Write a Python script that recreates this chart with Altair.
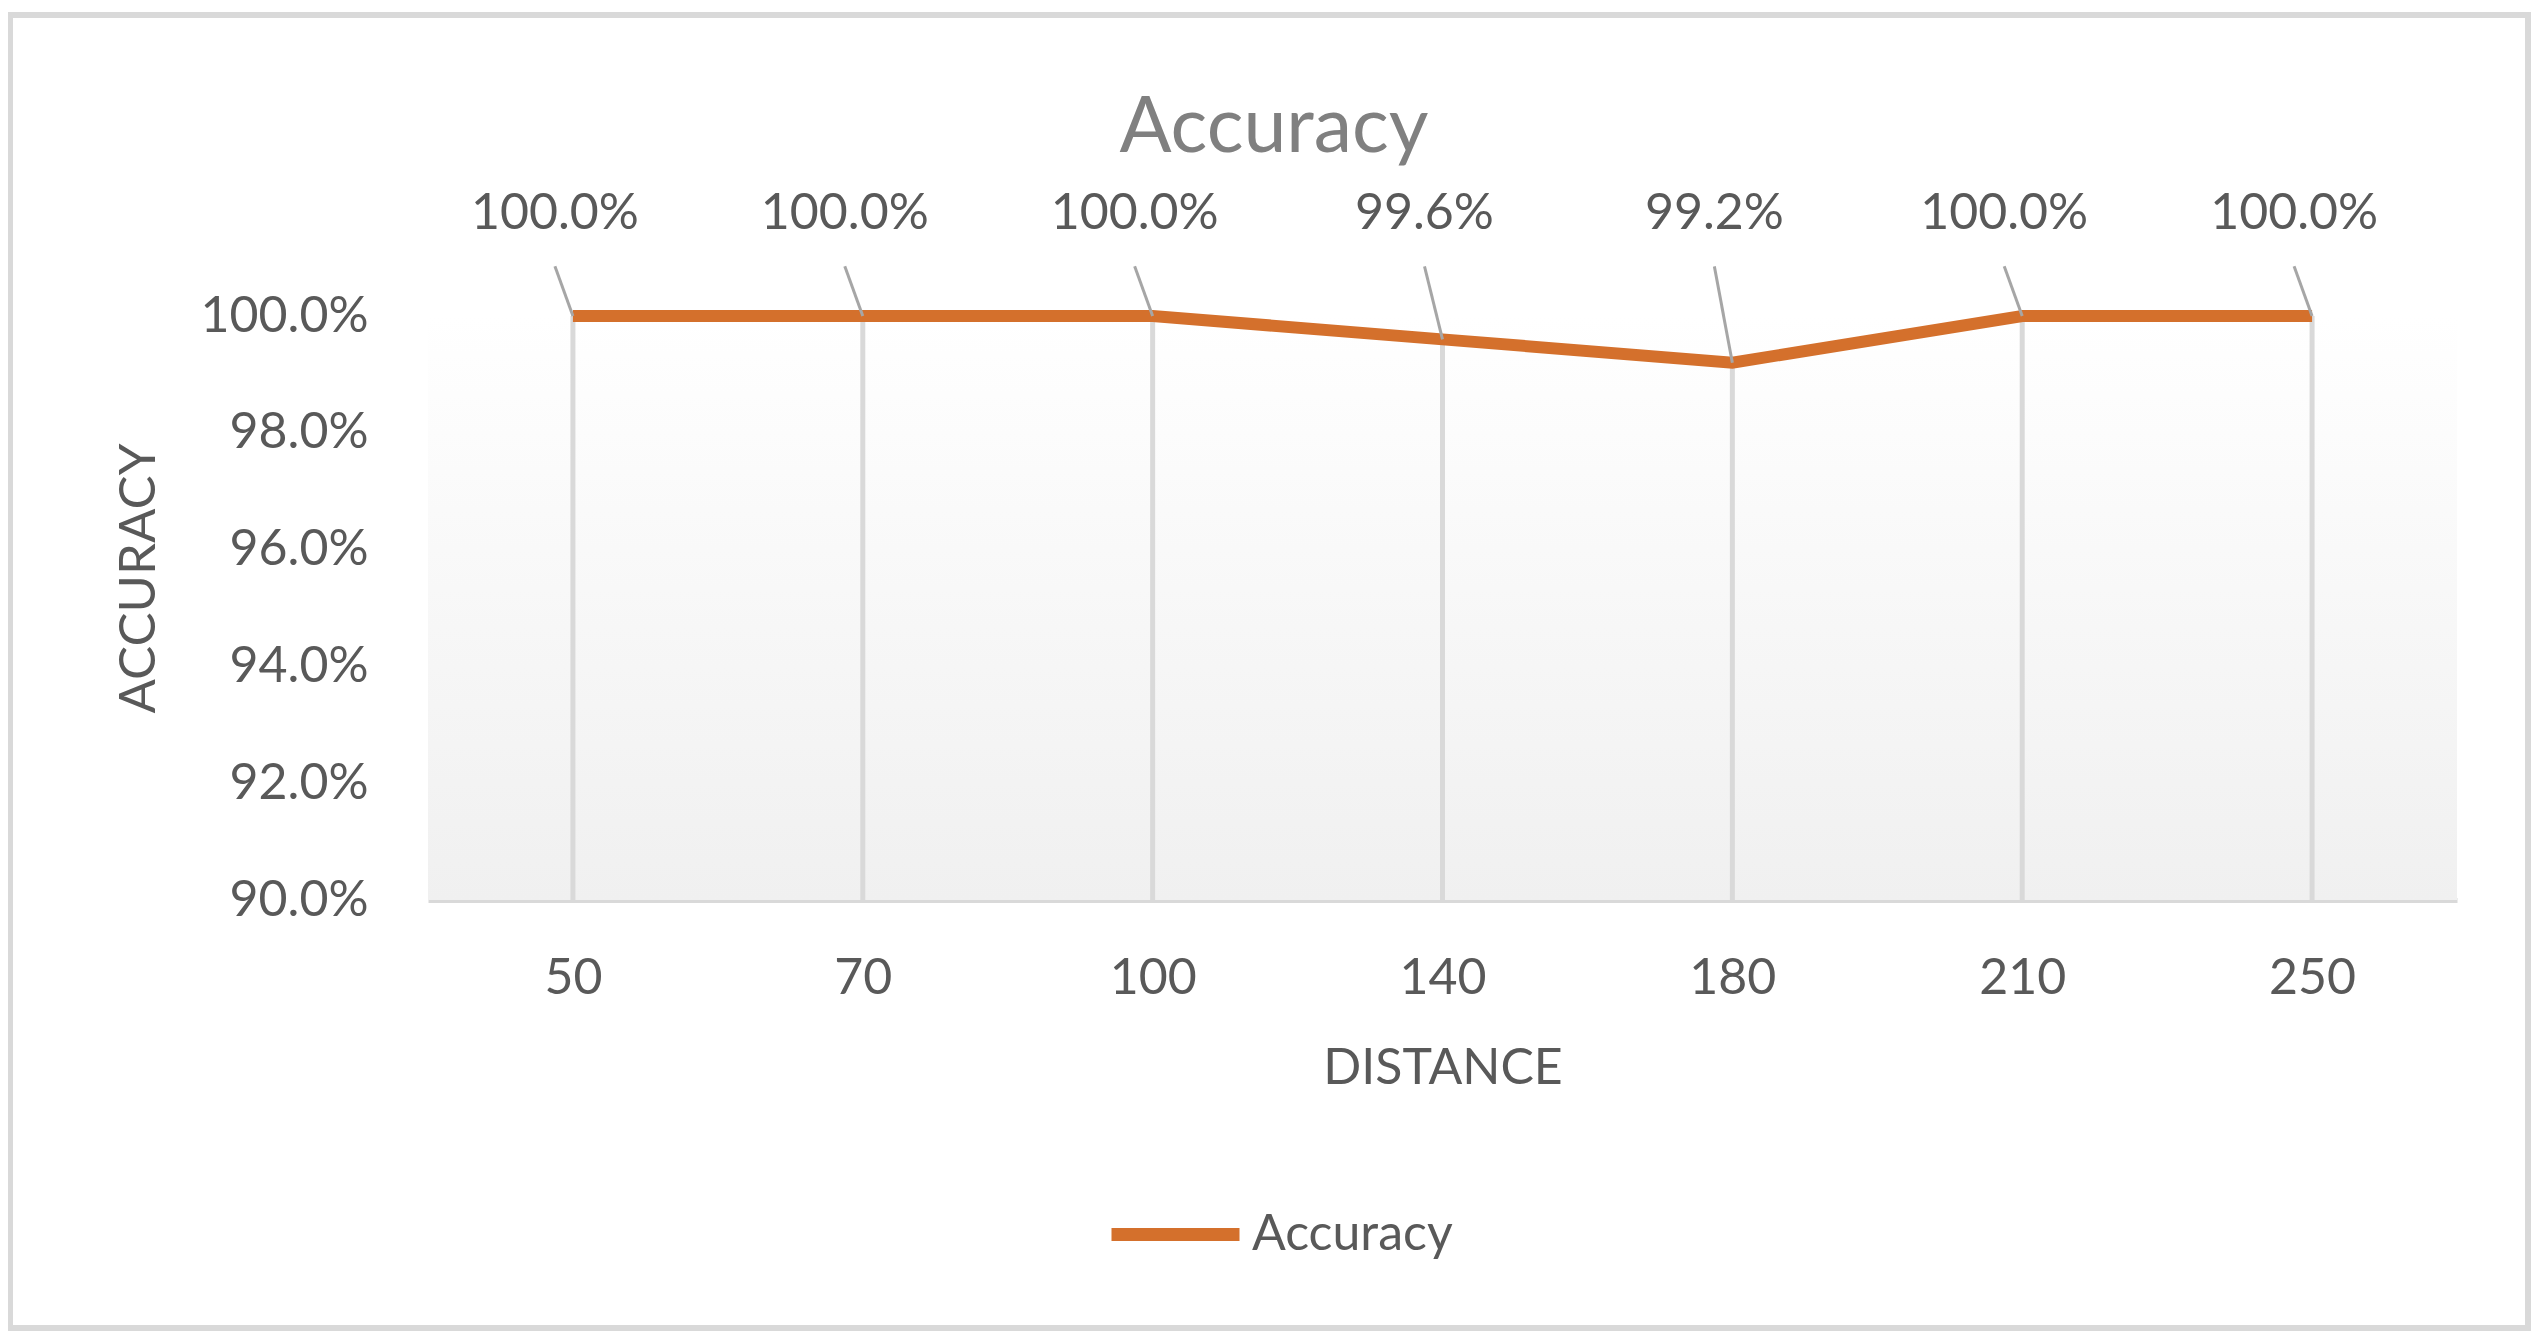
import altair as alt
import pandas as pd

# ---- data ----
distance = ["50", "70", "100", "140", "180", "210", "250"]
accuracy = [1.000, 1.000, 1.000, 0.996, 0.992, 1.000, 1.000]
series_name = "Accuracy"
y_ticks = [0.90, 0.92, 0.94, 0.96, 0.98, 1.00]

df = pd.DataFrame({"distance": distance, "accuracy": accuracy, "series": series_name})
one = pd.DataFrame({"k": [0]})

W, H = 2029, 584
FONT = "Lato"
TXT = "#595959"
ORANGE = "#d4702c"
LABEL_Y = 1.0175   # data-label row height (above plot top)
LEADER_Y = 1.0085  # leader line top

x_axis = alt.Axis(
    title="DISTANCE", labelAngle=0, labelFont=FONT, labelFontSize=50, labelColor=TXT,
    labelPadding=53, ticks=False, tickSize=0, domainColor="#d9d9d9", domainWidth=5,
    grid=False, titleFont=FONT, titleFontSize=50, titleFontWeight="normal",
    titleColor=TXT, titleX=1014.5, titleY=168, titleBaseline="middle", titleAlign="center",
)
y_axis = alt.Axis(
    title="ACCURACY", values=y_ticks, format=".1%", labelFont=FONT, labelFontSize=50,
    labelColor=TXT, labelPadding=60, ticks=False, tickSize=0, domain=False, grid=False,
    titleFont=FONT, titleFontSize=51, titleFontWeight="normal", titleColor=TXT,
    titleX=-289, titleY=262, titleBaseline="middle", titleAlign="center",
)

x_enc = alt.X("distance:O", sort=distance, scale=alt.Scale(type="point", padding=0.5), axis=x_axis)
y_scale = alt.Scale(domain=[0.9, 1.0], nice=False, zero=False)
y_enc = alt.Y("accuracy:Q", scale=y_scale, axis=y_axis)

border = alt.Chart(one).mark_rect(fillOpacity=0, stroke="#d9d9d9", strokeWidth=6).encode(
    x=alt.value(-418), x2=alt.value(2100), y=alt.value(-301), y2=alt.value(1012)
)

background = alt.Chart(one).mark_rect(
    fill=alt.Gradient(
        gradient="linear",
        stops=[alt.GradientStop(color="#ffffff", offset=0), alt.GradientStop(color="#f0f0f0", offset=1)],
        x1=0, x2=0, y1=0, y2=1,
    )
).encode(x=alt.value(0), x2=alt.value(W), y=alt.value(0), y2=alt.value(H))

title = alt.Chart(one).mark_text(
    text="Accuracy", font=FONT, fontSize=77, color="#808080", align="center", baseline="alphabetic"
).encode(x=alt.value(846), y=alt.value(-164))

base = alt.Chart(df)

drop_lines = base.mark_rule(color="#d9d9d9", strokeWidth=5).encode(
    x=x_enc, y=y_enc, y2=alt.datum(0.9)
)

line = base.mark_line(strokeWidth=12).encode(
    x=x_enc, y=y_enc,
    color=alt.Color(
        "series:N", scale=alt.Scale(range=[ORANGE]),
        legend=alt.Legend(
            title=None, orient="none", legendX=677, legendY=848, padding=0,
            symbolType="stroke", symbolSize=16384, symbolStrokeWidth=13,
            labelFont=FONT, labelFontSize=50, labelColor=TXT, labelOffset=6, labelLimit=0,
        ),
    ),
)

leaders = base.mark_rule(color="#a6a6a6", strokeWidth=3, x2Offset=-18).encode(
    x=x_enc, x2=alt.X2("distance"), y=y_enc, y2=alt.datum(LEADER_Y)
)

labels = base.mark_text(dx=-18, font=FONT, fontSize=50, color=TXT, baseline="middle").encode(
    x=x_enc, y=alt.datum(LABEL_Y), text=alt.Text("accuracy:Q", format=".1%")
)

chart = alt.layer(border, background, title, drop_lines, line, leaders, labels).properties(
    width=W, height=H,
    autosize=alt.AutoSizeParams(type="none"),
    padding={"left": 420, "top": 308, "right": 77, "bottom": 432},
).configure_view(strokeWidth=0)

chart.save("out.html", embed_options={"renderer": "svg", "actions": False})
